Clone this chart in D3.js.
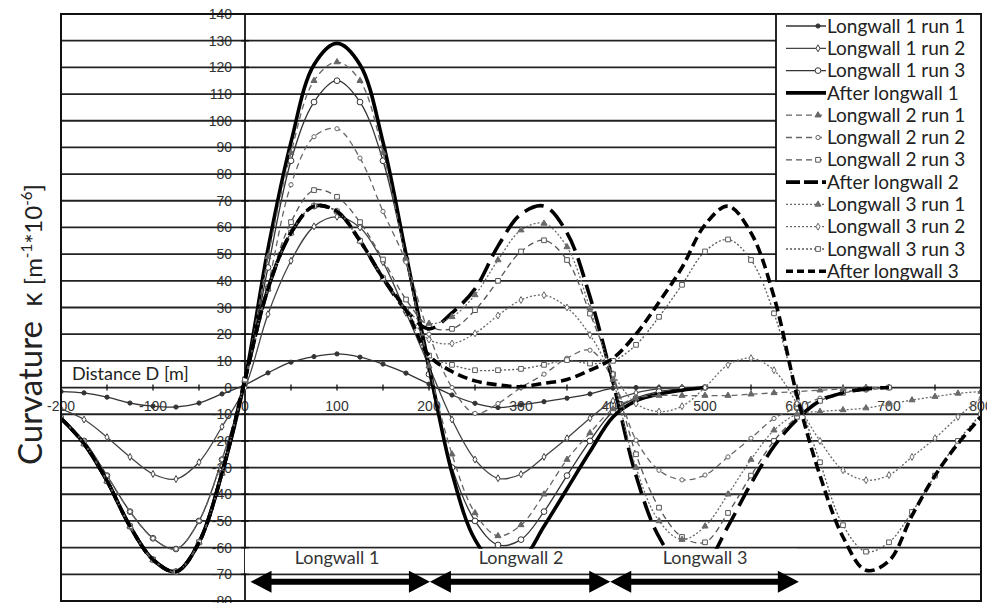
<!DOCTYPE html>
<html>
<head>
<meta charset="utf-8">
<script src="https://cdn.jsdelivr.net/npm/d3@7"></script>
<style>
body{margin:0;background:#fff;}
</style>
</head>
<body>
<div id="chart"></div>
<script>
// distance along the profile (m), one reading every 25 m
var distance = [-200,-175,-150,-125,-100,-75,-50,-25,0,25,50,75,100,125,150,175,200,
    225,250,275,300,325,350,375,400,425,450,475,500,525,550,575,600,625,650,675,700,
    725,750,775,800];

var yTicks = [-80,-70,-60,-50,-40,-30,-20,-10,0,10,20,30,40,50,60,70,80,90,100,110,120,130,140];
var xTicks = [-200,-100,0,100,200,300,400,500,600,700,800];

var seriesNames = ["Longwall 1 run 1","Longwall 1 run 2","Longwall 1 run 3","After longwall 1",
    "Longwall 2 run 1","Longwall 2 run 2","Longwall 2 run 3","After longwall 2",
    "Longwall 3 run 1","Longwall 3 run 2","Longwall 3 run 3","After longwall 3"];

// curvature (m^-1 * 10^-6); longwall 1 to 500 m, longwall 2 to 700 m
var lw1Run1 = [-1.5,-2,-3.6,-5.8,-7,-7.3,-5.8,-2.4,1, 5.5,9.5,11.6,12.6,11.4,8.8,5.4,1.3,
    -2.8,-5.9,-7.5,-6.5,-5.3,-4,-2.4,-0.2, 0,0,0,0];
var lw1Run2 = [-8,-12,-18.6,-26,-32.4,-34.3,-28,-14.7,0, 27.5,47.5,60.4,64,60,47,28,8,
    -12,-27,-34,-32.5,-26,-19,-11.5,-5, -2,-0.5,0,0];
var lw1Run3 = [-12,-20,-33,-46.5,-56.5,-60.5,-50,-27,2, 45,85,107,115,107,85,48,5,
    -30,-50,-59,-57,-46.5,-33,-20,-9, -4,-1.5,-0.5,0];
var afterLw1 = [-11.5,-21,-35,-52,-64.5,-69,-58,-32,3, 52,92,121,129,121,92,50,8,
    -32,-57,-67,-65,-52,-38,-24,-11, -5,-2.5,-1,0];

var lw2Run1 = [-11.5,-21,-35,-52,-64.5,-69,-58,-32,3, 49,88,115,122,115,88,48,8,
    -25,-47,-55.6,-51.5,-40,-27,-17,-8, -4,-3,-3,-3,-3,-2.5,-2,-1.5,-1,-0.5,0,0];
var lw2Run2 = [-12,-20,-33,-46.5,-56.5,-60.5,-50,-27,2, 38,76,94,97,86,66,47,20,
    0,-9.7,-6,0,5,11,14,3, -19.7,-31,-34.6,-32.8,-26,-19,-11.6,-7.6,-4,-2,-1,0];
var lw2Run3 = [-11.5,-21,-35,-52,-64.5,-69,-58,-32,3, 37,62,74,71.5,62,48,33,23,
    22,29,40,51,55.2,47.8,27.7,5, -25,-45,-56,-58,-47,-33,-20,-11,-5,-2,-0.5,0];
var afterLw2 = [-11.5,-21,-35,-52,-64.5,-69,-58,-32,3, 37,58,68,66,55,41,29,22,
    28,37,53,65,68,58,34,2, -33,-56,-67,-66,-52,-36,-22,-12,-5,-2,-0.5,0];

var lw3Run1 = [-11.5,-21,-35,-52,-64.5,-69,-58,-32,3, 37,58,68,66,55,41,29,24,
    26.5,34.7,47.8,59,61.5,52.7,29.7,3, -30,-50,-57,-52,-40,-27,-16,-10,
    -9,-8.4,-7.7,-6.2,-4.7,-3.4,-2.2,-1.5];
var lw3Run2 = [-11.5,-21,-35,-52,-64.5,-69,-58,-32,3, 37,58,68,66,55,41,29,18,
    16.5,20.3,27,32.8,34.6,30,19.7,5, -6,-9,-7,0,8.5,11,6.5,-6,
    -20,-31,-34.7,-32.8,-26,-19,-11,-4];
var lw3Run3 = [-11.5,-21,-35,-52,-64.5,-69,-58,-32,3, 37,58,68,66,55,41,29,12,
    8.5,6.5,6.5,7,8.5,10.3,9,10, 16,26.5,38.5,51,55.5,47.8,27.8,-2,
    -28,-51.6,-61.5,-58,-46.6,-33,-20,-10];
var afterLw3 = [-11.5,-21,-35,-52,-64.5,-69,-58,-32,3, 37,58,68,66,55,41,29,12,
    6,2.5,1,0.3,1.6,3,6.5,11, 20,32,45,61,68,58,34,-3,
    -33,-56,-68.5,-65,-48,-33,-21,-11];

var panelNames = ["Longwall 1","Longwall 2","Longwall 3"];
var panelFrom = [6,201,397];
var panelTo = [201,397,602];
var panelMid = [100,300,500];

function init(){

    var w = 987;
    var h = 603;
    var x = d3.scaleLinear().domain([-200,800]).range([61,981]);
    var y = d3.scaleLinear().domain([-80,140]).range([601,14]);

    var allValues = [lw1Run1,lw1Run2,lw1Run3,afterLw1,lw2Run1,lw2Run2,lw2Run3,afterLw2,
        lw3Run1,lw3Run2,lw3Run3,afterLw3];

    // look of each series, legend order
    var styles = [
        {color:"#333", width:1.3, dash:null, sym:d3.symbolCircle, size:14, fill:true},
        {color:"#444", width:1.3, dash:null, sym:d3.symbolDiamond, size:14, fill:false},
        {color:"#333", width:1.3, dash:null, sym:d3.symbolCircle, size:26, fill:false},
        {color:"#000", width:3.6, dash:null, sym:null},
        {color:"#666", width:1.3, dash:"6,4", sym:d3.symbolTriangle, size:16, fill:true},
        {color:"#666", width:1.3, dash:"6,4", sym:d3.symbolCircle, size:14, fill:false},
        {color:"#555", width:1.3, dash:"6,4", sym:d3.symbolSquare, size:22, fill:false},
        {color:"#000", width:3.6, dash:"20,8", sym:null},
        {color:"#6a6a6a", width:1.3, dash:"2,2", sym:d3.symbolTriangle, size:16, fill:true},
        {color:"#6a6a6a", width:1.3, dash:"2,2", sym:d3.symbolDiamond, size:14, fill:false},
        {color:"#5a5a5a", width:1.3, dash:"2,2", sym:d3.symbolSquare, size:22, fill:false},
        {color:"#000", width:3.6, dash:"10,5", sym:null}
    ];

    var series = allValues.map(function(vals, i){
        return {
            name: seriesNames[i],
            style: styles[i],
            points: vals.map(function(v, j){ return {d: distance[j], v: v}; })
        };
    });

    var svg = d3.select("#chart")
                .append("svg")
                .attr("width", w)
                .attr("height", h);

    svg.append("rect").attr("width", w).attr("height", h).attr("fill", "#fff");

    // y tick labels (under the grid, as in the original)
    svg.append("g")
        .selectAll("text")
        .data(yTicks)
        .enter()
        .append("text")
        .attr("x", x(0) - 13)
        .attr("y", function(d){ return y(d); })
        .attr("dy", "0.36em")
        .attr("text-anchor", "end")
        .style("font-family", "'Liberation Sans', Arial, sans-serif")
        .style("font-size", "14px")
        .attr("fill", "#333")
        .text(function(d){ return d; });

    // x tick labels below the zero line
    svg.append("g")
        .selectAll("text")
        .data(xTicks)
        .enter()
        .append("text")
        .attr("x", function(d){ return x(d); })
        .attr("y", y(0) + 23)
        .attr("text-anchor", "middle")
        .style("font-family", "'Liberation Sans', Arial, sans-serif")
        .style("font-size", "14px")
        .attr("fill", "#333")
        .text(function(d){ return d; });

    // horizontal grid
    svg.append("g")
        .selectAll("line")
        .data(yTicks)
        .enter()
        .append("line")
        .attr("x1", x(-200))
        .attr("x2", x(800))
        .attr("y1", function(d){ return y(d); })
        .attr("y2", function(d){ return y(d); })
        .attr("stroke", "#222")
        .attr("stroke-width", 1.8);

    // vertical axis through zero with crossing ticks
    svg.append("line")
        .attr("x1", x(0)).attr("x2", x(0))
        .attr("y1", y(140)).attr("y2", y(-80))
        .attr("stroke", "#111").attr("stroke-width", 1.8);
    svg.append("g")
        .selectAll("line")
        .data(yTicks)
        .enter()
        .append("line")
        .attr("x1", x(0) - 4).attr("x2", x(0) + 4)
        .attr("y1", function(d){ return y(d); })
        .attr("y2", function(d){ return y(d); })
        .attr("stroke", "#111").attr("stroke-width", 1.5);

    // small ticks on the distance axis
    svg.append("g")
        .selectAll("line")
        .data(d3.range(-200, 801, 50))
        .enter()
        .append("line")
        .attr("x1", function(d){ return x(d); })
        .attr("x2", function(d){ return x(d); })
        .attr("y1", y(0) - 3).attr("y2", y(0) + 3)
        .attr("stroke", "#111").attr("stroke-width", 1.3);

    svg.append("text")
        .attr("x", 72)
        .attr("y", 380)
        .style("font-family", "Lato, 'Open Sans', sans-serif")
        .style("font-size", "18px")
        .attr("fill", "#222")
        .text("Distance D [m]");

    // curves
    svg.append("clipPath").attr("id", "plotclip")
        .append("rect")
        .attr("x", x(-200)).attr("y", y(140))
        .attr("width", x(800) - x(-200)).attr("height", y(-80) - y(140));

    var line = d3.line()
                .x(function(d){ return x(d.d); })
                .y(function(d){ return y(d.v); })
                .curve(d3.curveCatmullRom.alpha(0.5));

    var plot = svg.append("g").attr("clip-path", "url(#plotclip)");

    series.forEach(function(s){
        var g = plot.append("g");
        g.append("path")
            .datum(s.points)
            .attr("d", line)
            .attr("fill", "none")
            .attr("stroke", s.style.color)
            .attr("stroke-width", s.style.width)
            .attr("stroke-dasharray", s.style.dash);
        if(s.style.sym){
            g.selectAll("path.mark")
                .data(s.points)
                .enter()
                .append("path")
                .attr("class", "mark")
                .attr("d", d3.symbol().type(s.style.sym).size(s.style.size))
                .attr("transform", function(d){ return "translate(" + x(d.d) + "," + y(d.v) + ")"; })
                .attr("fill", s.style.fill ? s.style.color : "#fff")
                .attr("stroke", s.style.color)
                .attr("stroke-width", 1);
        }
    });

    // panel labels and arrows
    svg.append("rect")
        .attr("x", x(0)).attr("y", y(-60) + 1.2)
        .attr("width", x(600) - x(0)).attr("height", y(-70) - y(-60) - 2.4)
        .attr("fill", "#fff");

    svg.append("g")
        .selectAll("text")
        .data(panelNames)
        .enter()
        .append("text")
        .attr("x", function(d, i){ return x(panelMid[i]); })
        .attr("y", y(-64) + 6)
        .attr("text-anchor", "middle")
        .style("font-family", "Lato, 'Open Sans', sans-serif")
        .style("font-size", "18px")
        .attr("fill", "#333")
        .text(function(d){ return d; });

    var ay = y(-72.8);
    svg.append("g")
        .selectAll("path")
        .data(panelNames)
        .enter()
        .append("path")
        .attr("d", function(d, i){
            var a = x(panelFrom[i]), b = x(panelTo[i]);
            var hl = 21, hh = 11, st = 3;
            return "M" + a + "," + ay +
                "L" + (a + hl) + "," + (ay - hh) + "L" + (a + hl) + "," + (ay - st) +
                "L" + (b - hl) + "," + (ay - st) + "L" + (b - hl) + "," + (ay - hh) +
                "L" + b + "," + ay +
                "L" + (b - hl) + "," + (ay + hh) + "L" + (b - hl) + "," + (ay + st) +
                "L" + (a + hl) + "," + (ay + st) + "L" + (a + hl) + "," + (ay + hh) + "Z";
        })
        .attr("fill", "#000");

    // plot frame
    svg.append("rect")
        .attr("x", x(-200)).attr("y", y(140))
        .attr("width", x(800) - x(-200)).attr("height", y(-80) - y(140))
        .attr("fill", "none")
        .attr("stroke", "#111")
        .attr("stroke-width", 2);

    // legend
    var lx = 776, ly = 14, rowH = 22.3;
    var legend = svg.append("g");
    legend.append("rect")
        .attr("x", lx).attr("y", ly)
        .attr("width", x(800) - lx).attr("height", 267)
        .attr("fill", "#fff")
        .attr("stroke", "#111")
        .attr("stroke-width", 1.8);

    var rows = legend.selectAll("g.row")
        .data(series)
        .enter()
        .append("g")
        .attr("class", "row")
        .attr("transform", function(d, i){ return "translate(0," + (ly + 12 + i * rowH) + ")"; });

    rows.append("line")
        .attr("x1", 786).attr("x2", 826)
        .attr("y1", 0).attr("y2", 0)
        .attr("stroke", function(d){ return d.style.color; })
        .attr("stroke-width", function(d){ return d.style.width; })
        .attr("stroke-dasharray", function(d){
            if(d.style.width > 3 && d.style.dash) return d.style.dash == "20,8" ? "14,4" : "7,4";
            return d.style.dash;
        });

    rows.filter(function(d){ return d.style.sym; })
        .append("path")
        .attr("d", function(d){ return d3.symbol().type(d.style.sym).size(d.style.size)(); })
        .attr("transform", "translate(818,0)")
        .attr("fill", function(d){ return d.style.fill ? d.style.color : "#fff"; })
        .attr("stroke", function(d){ return d.style.color; })
        .attr("stroke-width", 1);

    rows.append("text")
        .attr("x", 827)
        .attr("y", 0)
        .attr("dy", "0.35em")
        .style("font-family", "Lato, 'Open Sans', sans-serif")
        .style("font-size", "19px")
        .attr("fill", "#222")
        .text(function(d){ return d.name; });

    // y axis title
    var title = svg.append("text")
        .attr("transform", "translate(42,465) rotate(-90)")
        .style("font-family", "Lato, 'Open Sans', sans-serif")
        .attr("fill", "#222");
    title.append("tspan").style("font-size", "33px").text("Curvature");
    title.append("tspan").style("font-size", "28px").text("\u00a0\u00a0\u03ba\u00a0");
    title.append("tspan").style("font-size", "24px").text("[m");
    title.append("tspan").style("font-size", "15px").attr("dy", -10).text("-1");
    title.append("tspan").style("font-size", "24px").attr("dy", 10).text("*10");
    title.append("tspan").style("font-size", "15px").attr("dy", -10).text("-6");
    title.append("tspan").style("font-size", "24px").attr("dy", 10).text("]");
}
window.onload = init;
</script>
</body>
</html>
